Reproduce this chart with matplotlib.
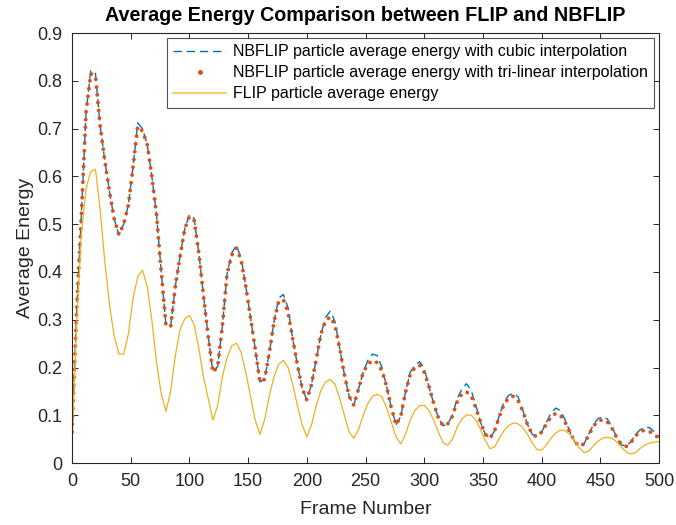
import matplotlib
matplotlib.use("Agg")
import matplotlib.pyplot as plt
from matplotlib.lines import Line2D

plt.rcParams['font.family'] = ['Liberation Sans', 'DejaVu Sans']

# frame numbers shared by all three curves (read every 4 frames)
frames = list(range(0, 501, 4))

# NBFLIP with tri-linear interpolation (orange dots)
nbflip_trilinear = [
    0.065, 0.32, 0.52, 0.735, 0.815, 0.81, 0.705, 0.632, 0.567, 0.51,
    0.478, 0.50, 0.54, 0.62, 0.705, 0.695, 0.668, 0.60, 0.52, 0.40,
    0.289, 0.285, 0.37, 0.432, 0.49, 0.516, 0.508, 0.44, 0.35, 0.265,
    0.19, 0.202, 0.285, 0.395, 0.435, 0.45, 0.425, 0.37, 0.305, 0.24,
    0.17, 0.175, 0.23, 0.295, 0.338, 0.342, 0.315, 0.26, 0.205, 0.157,
    0.132, 0.165, 0.217, 0.27, 0.298, 0.306, 0.288, 0.24, 0.185, 0.14,
    0.121, 0.155, 0.19, 0.207, 0.215, 0.21, 0.193, 0.16, 0.115, 0.08,
    0.098, 0.148, 0.185, 0.20, 0.205, 0.19, 0.16, 0.125, 0.095, 0.078,
    0.082, 0.098, 0.128, 0.145, 0.149, 0.14, 0.115, 0.085, 0.06, 0.052,
    0.068, 0.098, 0.123, 0.137, 0.14, 0.13, 0.108, 0.08, 0.06, 0.055,
    0.065, 0.082, 0.097, 0.104, 0.10, 0.085, 0.065, 0.045, 0.035, 0.04,
    0.058, 0.077, 0.088, 0.091, 0.086, 0.072, 0.053, 0.038, 0.035, 0.043,
    0.057, 0.066, 0.069, 0.066, 0.059, 0.052,
]

# NBFLIP with cubic interpolation (blue dashed)
nbflip_cubic = [
    0.06, 0.32, 0.52, 0.735, 0.822, 0.815, 0.705, 0.632, 0.567, 0.51,
    0.478, 0.50, 0.54, 0.62, 0.712, 0.70, 0.668, 0.60, 0.52, 0.40,
    0.289, 0.285, 0.37, 0.432, 0.49, 0.52, 0.512, 0.44, 0.35, 0.265,
    0.19, 0.202, 0.285, 0.395, 0.44, 0.455, 0.43, 0.37, 0.305, 0.24,
    0.17, 0.175, 0.23, 0.295, 0.345, 0.353, 0.325, 0.26, 0.205, 0.157,
    0.132, 0.165, 0.217, 0.27, 0.305, 0.318, 0.296, 0.24, 0.185, 0.14,
    0.121, 0.155, 0.19, 0.215, 0.228, 0.225, 0.20, 0.16, 0.115, 0.08,
    0.098, 0.148, 0.19, 0.205, 0.212, 0.198, 0.16, 0.125, 0.095, 0.078,
    0.082, 0.10, 0.135, 0.155, 0.166, 0.152, 0.12, 0.085, 0.06, 0.052,
    0.068, 0.10, 0.128, 0.142, 0.146, 0.138, 0.11, 0.08, 0.06, 0.055,
    0.065, 0.085, 0.105, 0.115, 0.11, 0.09, 0.066, 0.045, 0.035, 0.04,
    0.06, 0.08, 0.093, 0.097, 0.092, 0.075, 0.054, 0.038, 0.035, 0.045,
    0.06, 0.07, 0.075, 0.074, 0.065, 0.055,
]

# FLIP (yellow solid)
flip_energy = [
    0.045, 0.29, 0.48, 0.575, 0.61, 0.615, 0.53, 0.42, 0.33, 0.265,
    0.228, 0.228, 0.27, 0.345, 0.39, 0.404, 0.37, 0.30, 0.21, 0.145,
    0.108, 0.15, 0.225, 0.279, 0.302, 0.309, 0.29, 0.24, 0.18, 0.135,
    0.09, 0.12, 0.18, 0.22, 0.245, 0.251, 0.232, 0.19, 0.14, 0.09,
    0.06, 0.09, 0.14, 0.18, 0.207, 0.215, 0.20, 0.165, 0.12, 0.08,
    0.055, 0.08, 0.12, 0.152, 0.17, 0.175, 0.165, 0.135, 0.10, 0.065,
    0.052, 0.07, 0.10, 0.125, 0.14, 0.144, 0.138, 0.115, 0.085, 0.055,
    0.04, 0.06, 0.09, 0.11, 0.12, 0.121, 0.11, 0.09, 0.065, 0.043,
    0.037, 0.05, 0.075, 0.092, 0.101, 0.10, 0.09, 0.07, 0.047, 0.03,
    0.034, 0.052, 0.068, 0.079, 0.084, 0.082, 0.074, 0.06, 0.042, 0.028,
    0.027, 0.038, 0.052, 0.063, 0.069, 0.068, 0.06, 0.047, 0.032, 0.022,
    0.025, 0.036, 0.046, 0.052, 0.054, 0.052, 0.044, 0.033, 0.023, 0.019,
    0.022, 0.031, 0.038, 0.042, 0.044, 0.045,
]

labels = ['NBFLIP particle average energy with cubic interpolation',
          'NBFLIP particle average energy with tri-linear interpolation',
          'FLIP particle average energy']

blue, orange, yellow = '#0072BD', '#D95319', '#EDB120'

fig = plt.figure(figsize=(6.76, 5.25), dpi=100)
ax = fig.add_axes([0.1065, 0.118, 0.8685, 0.819])

ax.plot(frames, nbflip_cubic, color=blue, linestyle=(0, (6, 3.5)), lw=1.0)
ax.plot(frames, nbflip_trilinear, color=orange, linestyle=(0, (0.01, 2.0)),
        lw=2.8, dash_capstyle='round')
ax.plot(frames, flip_energy, color=yellow, lw=0.9)

ax.set_xlim(0, 500)
ax.set_ylim(0, 0.9)
ax.set_xticks(range(0, 501, 50))
ax.set_yticks([i / 10 for i in range(10)])
ax.set_yticklabels(['0', '0.1', '0.2', '0.3', '0.4', '0.5', '0.6', '0.7', '0.8', '0.9'])
ax.tick_params(direction='in', top=True, right=True, labelsize=13, colors='#262626',
               length=4, width=0.7)
ax.tick_params(axis='x', pad=7)
ax.tick_params(axis='y', pad=7)
for s in ax.spines.values():
    s.set_color('#262626')
    s.set_linewidth(0.8)

ax.set_xlabel('Frame Number', fontsize=14, color='#262626', labelpad=8)
ax.set_ylabel('Average Energy', fontsize=14, color='#262626', labelpad=2)
ax.set_title('Average Energy Comparison between FLIP and NBFLIP', fontsize=14.2,
             fontweight='bold', pad=9)

handles = [
    Line2D([], [], color=blue, linestyle=(0, (6, 3.5)), lw=1.0),
    Line2D([], [], color=orange, linestyle='none', marker='o', markersize=2.5),
    Line2D([], [], color=yellow, lw=1.6, alpha=0.6),
]
leg = ax.legend(handles, labels, loc='upper right', fontsize=11.5, frameon=True,
                fancybox=False, edgecolor='#262626', handlelength=3.3,
                borderaxespad=0.3, labelspacing=0.38, borderpad=0.4,
                handletextpad=0.45)
leg.get_frame().set_linewidth(0.8)

fig.savefig('out.png', dpi=100)
